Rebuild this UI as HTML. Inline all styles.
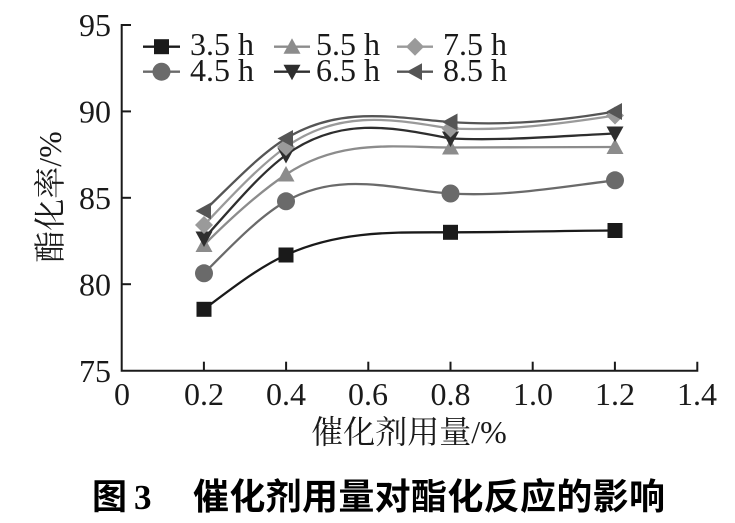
<!DOCTYPE html>
<html><head><meta charset="utf-8"><style>
html,body{margin:0;padding:0;background:#fff;}
svg{display:block;}
</style></head><body>
<svg width="735" height="523" viewBox="0 0 735 523" xmlns="http://www.w3.org/2000/svg">
<rect width="735" height="523" fill="#fff"/>
<!-- axes -->
<g stroke="#1a1a1a" stroke-width="2" fill="none">
<polyline points="131,25 121.7,25 121.7,370.7 697.3,370.7 697.3,361.7"/>
<line x1="121.7" y1="111.4" x2="131" y2="111.4"/>
<line x1="121.7" y1="197.8" x2="131" y2="197.8"/>
<line x1="121.7" y1="284.2" x2="131" y2="284.2"/>
<line x1="203.9" y1="370.7" x2="203.9" y2="361.7"/>
<line x1="286.1" y1="370.7" x2="286.1" y2="361.7"/>
<line x1="368.3" y1="370.7" x2="368.3" y2="361.7"/>
<line x1="450.5" y1="370.7" x2="450.5" y2="361.7"/>
<line x1="532.7" y1="370.7" x2="532.7" y2="361.7"/>
<line x1="614.9" y1="370.7" x2="614.9" y2="361.7"/>
</g>
<!-- tick labels -->
<g font-family="'Liberation Serif', serif" font-size="32" fill="#1a1a1a">
<g text-anchor="end">
<text x="111" y="36">95</text>
<text x="111" y="122.5">90</text>
<text x="111" y="209">85</text>
<text x="111" y="295.5">80</text>
<text x="111" y="382">75</text>
</g>
<g text-anchor="middle">
<text x="122" y="405">0</text>
<text x="204" y="405">0.2</text>
<text x="286" y="405">0.4</text>
<text x="368" y="405">0.6</text>
<text x="450.5" y="405">0.8</text>
<text x="533" y="405">1.0</text>
<text x="615" y="405">1.2</text>
<text x="697" y="405">1.4</text>
</g>
</g>
<!-- axis titles -->
<text x="409" y="443" text-anchor="middle" font-family="'Liberation Serif','Noto Serif CJK SC',serif" font-size="32" fill="#1a1a1a">催化剂用量/%</text>
<text transform="translate(61,197) rotate(-90)" text-anchor="middle" font-family="'Liberation Serif','Noto Serif CJK SC',serif" font-size="32" fill="#1a1a1a">酯化率/%</text>

<!-- series lines -->
<g fill="none" stroke-width="2.3">
<path stroke="#1a1a1a" d="M204,309.3 C231.3,288.8 258.7,267.4 286,255 C340.8,230 395.7,232.5 450.5,232.3 C505.3,232.3 560.2,230.8 615,230.5"/>
<path stroke="#6a6a6a" d="M204,273.3 C231.3,246 258.7,216.9 286,201.3 C340.8,170 395.7,190 450.5,193.5 C505.3,197 560.2,187 615,180.3"/>
<path stroke="#8c8c8c" d="M204,245 C231.3,217.7 258.7,192.7 286,174.5 C340.8,138 395.7,147.5 450.5,147.5 C505.3,147.5 560.2,147 615,147"/>
<path stroke="#2e2e2e" d="M204,238.5 C231.3,208.5 258.7,174.9 286,155 C340.8,115 395.7,128 450.5,138.5 C505.3,141 560.2,136 615,133.5"/>
<path stroke="#9a9a9a" d="M204,225 C231.3,196.3 258.7,166.4 286,147 C340.8,108 395.7,120 450.5,128.5 C505.3,131 560.2,124 615,115.5"/>
<path stroke="#555" d="M204,211 C231.3,185.1 258.7,155.2 286,138.5 C340.8,105 395.7,118 450.5,122 C505.3,126 560.2,121 615,111.5"/>
</g>

<!-- markers -->
<defs>
<rect id="sq" x="-7.5" y="-7.5" width="15" height="15" fill="#1a1a1a"/>
<circle id="ci" r="9" fill="#6a6a6a"/>
<polygon id="tu" points="0,-8.5 8.5,7 -8.5,7" fill="#8c8c8c"/>
<polygon id="td" points="0,8.5 8.5,-7 -8.5,-7" fill="#2e2e2e"/>
<polygon id="di" points="0,-9 9,0 0,9 -9,0" fill="#9a9a9a"/>
<polygon id="tl" points="-8.5,0 7,-8.5 7,8.5" fill="#555"/>
</defs>
<use href="#sq" x="204" y="309.3"/><use href="#sq" x="286" y="255"/><use href="#sq" x="450.5" y="232.3"/><use href="#sq" x="615" y="230.5"/>
<use href="#ci" x="204" y="273.3"/><use href="#ci" x="286" y="201.3"/><use href="#ci" x="450.5" y="193.5"/><use href="#ci" x="615" y="180.3"/>
<use href="#tu" x="204" y="245"/><use href="#tu" x="286" y="174.5"/><use href="#tu" x="450.5" y="147.5"/><use href="#tu" x="615" y="147"/>
<use href="#td" x="204" y="238.5"/><use href="#td" x="286" y="155"/><use href="#td" x="450.5" y="138.5"/><use href="#td" x="615" y="133.5"/>
<use href="#di" x="204" y="225"/><use href="#di" x="286" y="147"/><use href="#di" x="450.5" y="128.5"/><use href="#di" x="615" y="115.5"/>
<use href="#tl" x="204" y="211"/><use href="#tl" x="286" y="138.5"/><use href="#tl" x="450.5" y="122"/><use href="#tl" x="615" y="111.5"/>

<!-- legend -->
<g stroke-width="2.3">
<line x1="143" y1="46.7" x2="180" y2="46.7" stroke="#1a1a1a"/>
<line x1="274" y1="46.7" x2="310" y2="46.7" stroke="#8c8c8c"/>
<line x1="397" y1="46.7" x2="433" y2="46.7" stroke="#9a9a9a"/>
<line x1="143" y1="71.7" x2="180" y2="71.7" stroke="#6a6a6a"/>
<line x1="274" y1="71.7" x2="310" y2="71.7" stroke="#2e2e2e"/>
<line x1="397" y1="71.7" x2="433" y2="71.7" stroke="#555"/>
</g>
<use href="#sq" x="161.5" y="46.7"/>
<use href="#tu" x="292" y="46.7"/>
<use href="#di" x="415" y="46.7"/>
<use href="#ci" x="161.5" y="71.7"/>
<use href="#td" x="292" y="71.7"/>
<use href="#tl" x="415" y="71.7"/>
<g font-family="'Liberation Serif', serif" font-size="32" fill="#1a1a1a">
<text x="190" y="55">3.5 h</text>
<text x="316" y="55">5.5 h</text>
<text x="443" y="55">7.5 h</text>
<text x="190" y="81">4.5 h</text>
<text x="316" y="81">6.5 h</text>
<text x="443" y="81">8.5 h</text>
</g>

<!-- caption -->
<text x="92" y="509" font-family="'Liberation Sans','Noto Sans CJK SC',sans-serif" font-weight="bold" font-size="35" fill="#000">图</text>
<text x="134" y="509" font-family="'Liberation Serif',serif" font-weight="bold" font-size="35" fill="#000">3</text>
<text x="193" y="509" font-family="'Liberation Sans','Noto Sans CJK SC',sans-serif" font-weight="bold" font-size="36" fill="#000" textLength="472" lengthAdjust="spacing">催化剂用量对酯化反应的影响</text>
</svg>
</body></html>
